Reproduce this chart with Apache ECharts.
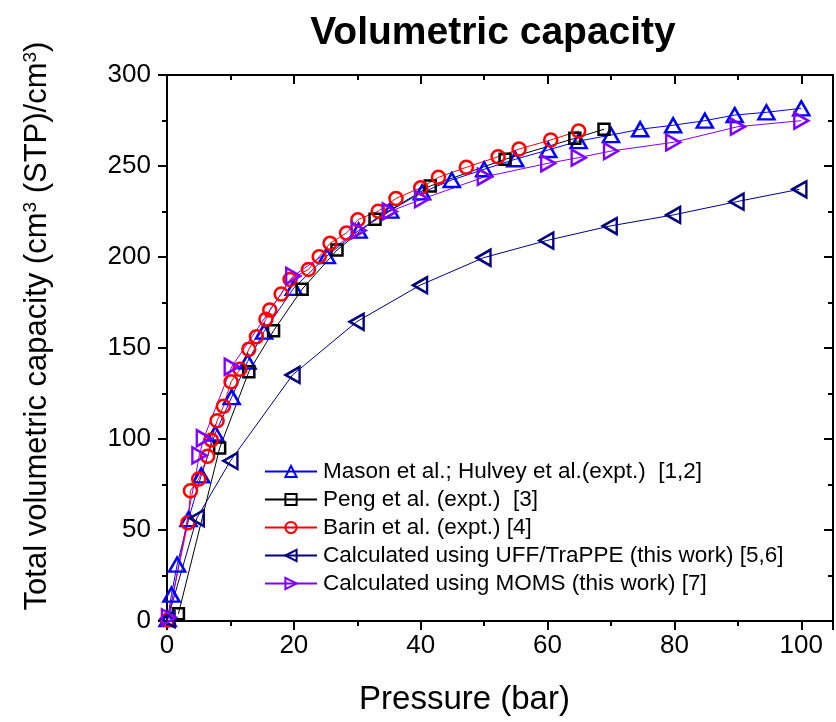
<!DOCTYPE html>
<html>
<head>
<meta charset="utf-8">
<script src="https://cdn.jsdelivr.net/npm/echarts@6/dist/echarts.min.js"></script>
<style>
  html, body { margin: 0; padding: 0; background: #fff; }
  #chart { width: 836px; height: 722px; }
</style>
</head>
<body>
<div id="chart"></div>
<script>
// ---- data ----
const titleText = 'Volumetric capacity';
const xTicks = [0, 20, 40, 60, 80, 100];
const yTicks = [0, 50, 100, 150, 200, 250, 300];

const seriesNames = [
  'Mason et al.; Hulvey et al.(expt.)  [1,2]',
  'Peng et al. (expt.)  [3]',
  'Barin et al. (expt.) [4]',
  'Calculated using UFF/TraPPE (this work) [5,6]',
  'Calculated using MOMS (this work) [7]'
];

const masonX = [0.1, 0.7, 1.6, 3.4, 5.4, 7.6, 10.2, 12.7, 15.3, 20.0, 25.2, 30.2, 35.2, 40.2, 44.9, 50.0, 54.9, 60.1, 64.9, 70.0, 74.6, 79.8, 84.8, 89.5, 94.5, 100];
const masonY = [1, 14.5, 31, 56, 80, 103, 123, 142.5, 159, 183, 200.5, 214.5, 225.5, 235.5, 242.3, 248.2, 253.7, 258.8, 263.7, 267, 270.2, 272.4, 274.9, 278, 279.5, 281.7];

const pengX = [1.8, 8.3, 12.9, 16.8, 21.3, 26.8, 32.8, 41.5, 53.3, 64.3, 68.9];
const pengY = [4, 95, 137, 159.5, 182.3, 203.8, 220.8, 239, 253.7, 265.2, 270.2];

const barinX = [0.1, 3.3, 3.7, 5.0, 6.4, 7.0, 7.9, 8.9, 10.1, 11.5, 12.9, 14.1, 15.6, 16.2, 18.0, 19.4, 22.3, 24.0, 25.7, 28.3, 30.1, 33.3, 36.1, 40.0, 42.8, 47.2, 52.2, 55.5, 60.5, 64.9];
const barinY = [0.5, 54, 71.6, 78, 90.5, 99.5, 110, 118, 131.5, 138.3, 149.3, 156.2, 165.8, 170.9, 179.7, 187.7, 193.2, 200.2, 207.5, 213.2, 220.5, 225.2, 232.2, 238, 243.8, 249.3, 255.1, 259.3, 264.3, 269.2];

const uffX = [0.1, 4.7, 10.0, 19.8, 29.9, 39.9, 49.9, 59.8, 69.8, 79.8, 89.8, 99.7];
const uffY = [1, 56.5, 88, 135.2, 164.4, 184.5, 199.6, 209, 217, 223.1, 230.4, 237.2];

const momsX = [0.3, 5.1, 5.8, 10.2, 19.9, 30.2, 35.1, 40.2, 50.1, 60.1, 64.9, 70.0, 79.8, 90.0, 100];
const momsY = [2, 91, 100.4, 139.7, 189.6, 214.6, 225, 231.8, 244.1, 251.5, 254.6, 258.2, 263, 271.6, 274.9];

// ---- build ----
function zip(xs, ys) { return xs.map((x, i) => [x, ys[i]]); }

const FONT = 'Liberation Sans, Arial, sans-serif';
const triUp = 'path://M5,0L10,8.66L0,8.66Z';
const triLeft = 'path://M0,5L8.66,0L8.66,10Z';
const triRight = 'path://M8.66,5L0,0L0,10Z';

function mk(name, data, color, symbol, size) {
  return {
    name: name,
    type: 'line',
    data: data,
    symbol: symbol,
    symbolSize: size,
    showAllSymbol: true,
    symbolKeepAspect: false,
    clip: true,
    lineStyle: { color: color, width: 1 },
    itemStyle: { color: 'rgba(255,255,255,0)', borderColor: color, borderWidth: 2.5 },
    emphasis: { disabled: true },
    animation: false
  };
}

const axisCommon = {
  type: 'value',
  axisLine: { show: true, onZero: false, lineStyle: { color: '#000', width: 2 } },
  splitLine: { show: false },
  axisLabel: { color: '#000', fontSize: 26, fontFamily: FONT },
  axisTick: { show: true, length: 9, lineStyle: { color: '#000', width: 2 } },
  minorTick: { show: true, splitNumber: 2, length: 5, lineStyle: { color: '#000', width: 2 } }
};

const chart = echarts.init(document.getElementById('chart'), null, { renderer: 'canvas' });
chart.setOption({
  animation: false,
  backgroundColor: '#fff',
  title: {
    text: titleText,
    left: 488,
    top: 9,
    textAlign: 'center',
    textStyle: { fontSize: 39, fontWeight: 'bold', fontFamily: FONT, color: '#000' }
  },
  grid: { left: 167, top: 75, width: 667, height: 546, containLabel: false },
  xAxis: [
    Object.assign({}, axisCommon, {
      position: 'bottom', min: 0, max: 105, interval: 20,
      axisLabel: Object.assign({}, axisCommon.axisLabel, {
        margin: 12,
        formatter: v => (xTicks.indexOf(v) >= 0 ? String(v) : '')
      }),
      name: 'Pressure (bar)',
      nameLocation: 'middle',
      nameGap: 62,
      nameTextStyle: { fontSize: 33, fontFamily: FONT, color: '#000', padding: [0, 71, 0, 0] }
    }),
    Object.assign({}, axisCommon, {
      position: 'top', min: 0, max: 105, interval: 20,
      axisLabel: { show: false },
      axisTick: Object.assign({}, axisCommon.axisTick, { inside: true }),
      minorTick: Object.assign({}, axisCommon.minorTick, { })
    })
  ],
  yAxis: [
    Object.assign({}, axisCommon, {
      position: 'left', min: 0, max: 300, interval: 50,
      axisLabel: Object.assign({}, axisCommon.axisLabel, {
        margin: 16,
        formatter: v => (yTicks.indexOf(v) >= 0 ? String(v) : '')
      }),
      name: 'Total volumetric capacity (cm{sup|3} (STP)/cm{sup|3})',
      nameLocation: 'middle',
      nameGap: 113,
      nameRotate: 90,
      nameTextStyle: {
        fontSize: 31, fontFamily: FONT, color: '#000',
        padding: [0, 0, 0, 44],
        rich: { sup: { fontSize: 19, fontFamily: FONT, color: '#000', verticalAlign: 'top', padding: [0, 0, 14, 0] } }
      }
    }),
    Object.assign({}, axisCommon, {
      position: 'right', min: 0, max: 300, interval: 50,
      axisLabel: { show: false },
      axisTick: Object.assign({}, axisCommon.axisTick, { inside: true }),
      minorTick: Object.assign({}, axisCommon.minorTick, { })
    })
  ],
  legend: {
    orient: 'vertical',
    left: 264,
    top: 460,
    padding: 0,
    itemWidth: 52,
    itemHeight: 14,
    itemGap: 5,
    selectedMode: false,
    itemStyle: { borderWidth: 2 },
    textStyle: { fontSize: 22.5, fontFamily: FONT, color: '#000', lineHeight: 23, padding: [0, 0, 0, 1] },
    data: seriesNames
  },
  series: [
    mk(seriesNames[0], zip(masonX, masonY), '#0000ff', triUp, [16, 14]),
    mk(seriesNames[1], zip(pengX, pengY), '#000000', 'rect', 11),
    mk(seriesNames[2], zip(barinX, barinY), '#ff0000', 'circle', 13),
    mk(seriesNames[3], zip(uffX, uffY), '#000080', triLeft, [14, 16]),
    mk(seriesNames[4], zip(momsX, momsY), '#8000ff', triRight, [14, 16])
  ]
});
</script>
</body>
</html>
